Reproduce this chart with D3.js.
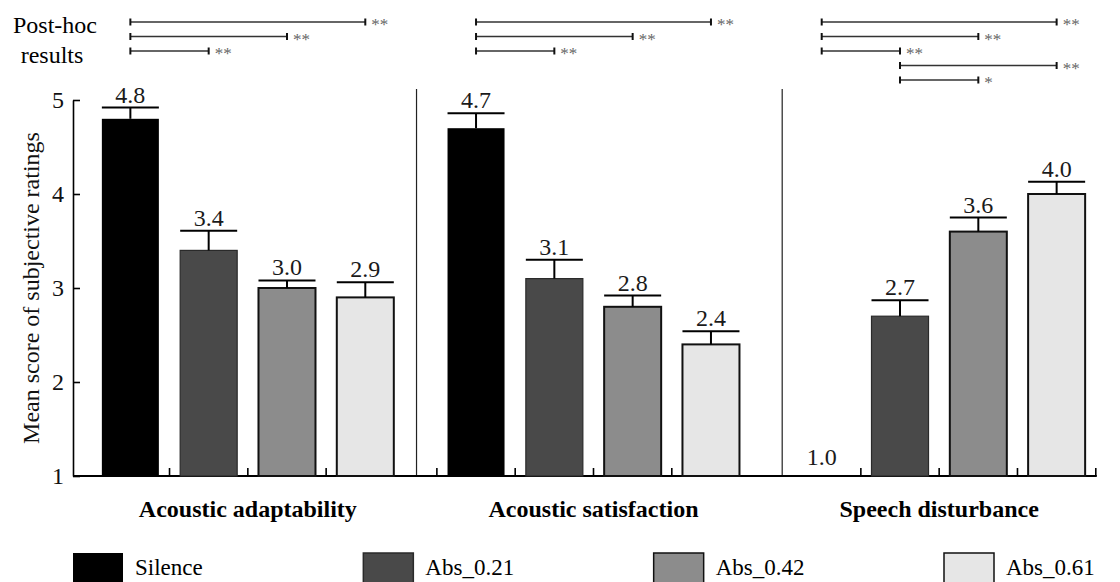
<!DOCTYPE html>
<html>
<head>
<meta charset="utf-8">
<script src="https://cdn.jsdelivr.net/npm/d3@7"></script>
<style>
  body { margin: 0; background: #fff; }
  svg { display: block; }
  text { font-family: "Liberation Serif", "Times New Roman", Times, serif; }
</style>
</head>
<body>
<svg id="chart" width="1120" height="582"></svg>
<script>
// ---- data ----
const measures = ["Acoustic adaptability", "Acoustic satisfaction", "Speech disturbance"];
const conditions = ["Silence", "Abs_0.21", "Abs_0.42", "Abs_0.61"];

const adaptabilityMeans = [4.8, 3.4, 3.0, 2.9];
const satisfactionMeans = [4.7, 3.1, 2.8, 2.4];
const disturbanceMeans  = [1.0, 2.7, 3.6, 4.0];

const adaptabilityErr = [0.12, 0.21, 0.08, 0.16];
const satisfactionErr = [0.16, 0.20, 0.12, 0.14];
const disturbanceErr  = [0.00, 0.17, 0.15, 0.13];

const yTicks = [1, 2, 3, 4, 5];

// post-hoc pairwise comparisons: [condition A, condition B, significance]
const adaptabilityPairs = [[0, 3, "**"], [0, 2, "**"], [0, 1, "**"]];
const satisfactionPairs = [[0, 3, "**"], [0, 2, "**"], [0, 1, "**"]];
const disturbancePairs  = [[0, 3, "**"], [0, 2, "**"], [0, 1, "**"], [1, 3, "**"], [1, 2, "*"]];

// ---- assembled rows ----
const means = [adaptabilityMeans, satisfactionMeans, disturbanceMeans];
const errs = [adaptabilityErr, satisfactionErr, disturbanceErr];
const pairs = [adaptabilityPairs, satisfactionPairs, disturbancePairs];
const rows = [];
measures.forEach((m, gi) => conditions.forEach((c, ci) => {
  rows.push({ measure: m, condition: c, ci, value: means[gi][ci], err: errs[gi][ci] });
}));

// ---- styling ----
const fills = ["#000000", "#494949", "#8c8c8c", "#e6e6e6"];
const strokes = ["#000000", "#2a2a2a", "#111111", "#111111"];
const fontSize = 24;

const svg = d3.select("#chart");

// ---- scales ----
const y = d3.scaleLinear().domain([1, 5]).range([476, 100]);
const x0 = d3.scaleBand().domain(measures).range([75, 1112]).paddingInner(0).paddingOuter(0);
const x1 = d3.scaleBand().domain(conditions).range([0, x0.bandwidth()])
  .paddingInner(0.272).paddingOuter(0.343);
const bw = x1.bandwidth();
const gap = x1.step() - bw;
const barX = (m, c) => x0(m) + x1(c);
const barMid = (m, c) => barX(m, c) + bw / 2;

const axisLeftX = 73;

// ---- y axis ----
const yAxis = d3.axisLeft(y).tickValues(yTicks).tickFormat(d3.format("d"))
  .tickSizeInner(-7).tickSizeOuter(0).tickPadding(9);
const gy = svg.append("g").attr("transform", `translate(${axisLeftX},0)`).call(yAxis);
gy.attr("font-family", null).attr("font-size", null);
gy.select(".domain").attr("stroke", "#000").attr("stroke-width", 1.6);
gy.selectAll(".tick line").attr("stroke", "#000").attr("stroke-width", 1.6);
gy.selectAll(".tick text").attr("font-size", fontSize).attr("fill", "#111");

svg.append("text")
  .attr("transform", `translate(39,${(y(1) + y(5)) / 2}) rotate(-90)`)
  .attr("text-anchor", "middle")
  .attr("font-size", fontSize)
  .attr("fill", "#111")
  .text("Mean score of subjective ratings");

// ---- group dividers ----
const dividerInset = [31, 11];
measures.slice(1).forEach((m, i) => {
  const xd = barX(m, conditions[0]) - dividerInset[i];
  svg.append("line")
    .attr("x1", xd).attr("x2", xd).attr("y1", 89).attr("y2", y(1))
    .attr("stroke", "#222").attr("stroke-width", 1.2);
});

// ---- bottom baseline with category ticks ----
const lastX = barX(measures[2], conditions[3]) + bw + gap / 2;
svg.append("line")
  .attr("x1", axisLeftX).attr("x2", lastX + 1)
  .attr("y1", y(1)).attr("y2", y(1))
  .attr("stroke", "#000").attr("stroke-width", 2);

const tickEdges = [[1, 2, 3], [0, 1, 2, 3], [1, 2, 3, 4]];
measures.forEach((m, gi) => {
  tickEdges[gi].forEach(k => {
    const tx = k < 4 ? barX(m, conditions[k]) - gap / 2 : barX(m, conditions[3]) + bw + gap / 2;
    svg.append("line")
      .attr("x1", tx).attr("x2", tx).attr("y1", y(1)).attr("y2", y(1) - 8)
      .attr("stroke", "#000").attr("stroke-width", 1.6);
  });
});

// ---- bars ----
svg.append("g").selectAll("rect")
  .data(rows.filter(d => d.value > 1))
  .join("rect")
  .attr("x", d => barX(d.measure, d.condition))
  .attr("y", d => y(d.value))
  .attr("width", bw)
  .attr("height", d => y(1) - y(d.value))
  .attr("fill", d => fills[d.ci])
  .attr("stroke", d => strokes[d.ci])
  .attr("stroke-width", d => d.ci === 0 ? 0 : (d.ci === 1 ? 1.2 : 2));

// ---- error bars ----
const eb = svg.append("g").attr("stroke", "#000").attr("stroke-width", 2);
rows.filter(d => d.err > 0).forEach(d => {
  const cx = barMid(d.measure, d.condition);
  eb.append("line").attr("x1", cx).attr("x2", cx)
    .attr("y1", y(d.value)).attr("y2", y(d.value + d.err));
  eb.append("line")
    .attr("x1", barX(d.measure, d.condition)).attr("x2", barX(d.measure, d.condition) + bw)
    .attr("y1", y(d.value + d.err)).attr("y2", y(d.value + d.err));
});

// ---- value labels ----
svg.append("g").selectAll("text")
  .data(rows)
  .join("text")
  .attr("x", d => barMid(d.measure, d.condition))
  .attr("y", d => Math.min(y(d.value + d.err) - 5, y(d.value) - 11))
  .attr("text-anchor", "middle")
  .attr("font-size", fontSize)
  .attr("fill", "#1a1a1a")
  .text(d => d3.format(".1f")(d.value));

// ---- measure titles ----
svg.append("g").selectAll("text")
  .data(measures)
  .join("text")
  .attr("x", m => barX(m, conditions[0]) + (barX(m, conditions[3]) + bw - barX(m, conditions[0])) / 2)
  .attr("y", 517)
  .attr("text-anchor", "middle")
  .attr("font-size", fontSize)
  .attr("font-weight", "bold")
  .attr("fill", "#000")
  .text(m => m);

// ---- post-hoc comparison brackets ----
const postY = d3.scalePoint().domain(d3.range(5)).range([22, 80]);
const ph = svg.append("g");
ph.append("text").attr("x", 55).attr("y", 33).attr("text-anchor", "middle")
  .attr("font-size", fontSize).attr("fill", "#000").text("Post-hoc");
ph.append("text").attr("x", 52).attr("y", 63).attr("text-anchor", "middle")
  .attr("font-size", fontSize).attr("fill", "#000").text("results");

measures.forEach((m, gi) => {
  pairs[gi].forEach(([a, b, sig], row) => {
    const xa = barMid(m, conditions[a]);
    const xb = barMid(m, conditions[b]);
    const yy = postY(row);
    ph.append("line").attr("x1", xa).attr("x2", xb).attr("y1", yy).attr("y2", yy)
      .attr("stroke", "#333").attr("stroke-width", 1.3);
    [xa, xb].forEach(xe => ph.append("line")
      .attr("x1", xe).attr("x2", xe).attr("y1", yy - 3.5).attr("y2", yy + 3.5)
      .attr("stroke", "#111").attr("stroke-width", 2));
    ph.append("text").attr("x", xb + 6).attr("y", yy + 8)
      .attr("font-size", 17).attr("fill", "#666").text(sig);
  });
});

// ---- legend ----
const legX = d3.scalePoint().domain(conditions).range([73, 944]);
const leg = svg.append("g").selectAll("g")
  .data(conditions)
  .join("g")
  .attr("transform", c => `translate(${legX(c)},553)`);
leg.append("rect")
  .attr("width", 50).attr("height", 50)
  .attr("fill", (c, i) => fills[i])
  .attr("stroke", (c, i) => strokes[i])
  .attr("stroke-width", (c, i) => i === 0 ? 0 : 1.5);
leg.append("text")
  .attr("x", 62).attr("y", 22)
  .attr("font-size", 23)
  .attr("fill", "#000")
  .text(c => c);
</script>
</body>
</html>
